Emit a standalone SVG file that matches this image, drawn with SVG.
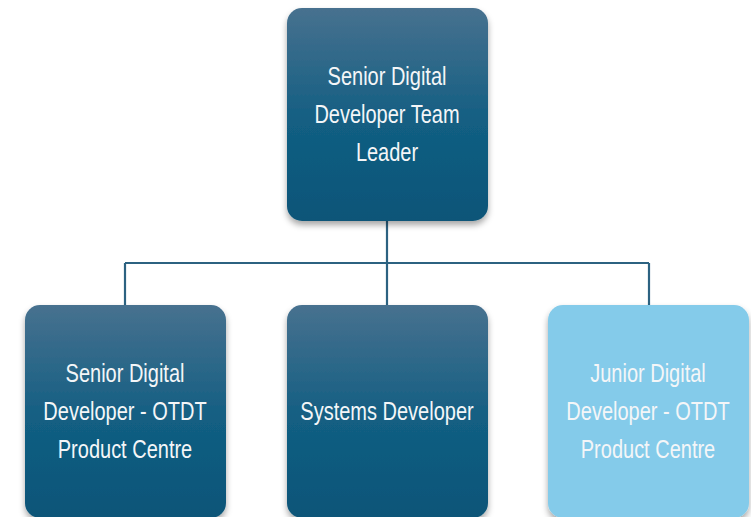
<svg xmlns="http://www.w3.org/2000/svg" width="751" height="517" viewBox="0 0 751 517">
<defs>
<linearGradient id="dark" x1="0" y1="0" x2="0" y2="1">
<stop offset="0" stop-color="#47718F"/>
<stop offset="0.55" stop-color="#125E82"/>
<stop offset="1" stop-color="#0A5578"/>
</linearGradient>
<filter id="sh" x="-10%" y="-10%" width="120%" height="125%">
<feDropShadow dx="0" dy="4" stdDeviation="3" flood-color="#000" flood-opacity="0.35"/>
</filter>
<style>
.box{fill:url(#dark);filter:url(#sh);}
.light{fill:#84CBEA;filter:url(#sh);}
.t{font-family:"Liberation Sans",Arial,sans-serif;font-size:25px;fill:#F4F6F8;text-anchor:middle;}
.c{fill:none;stroke:#2C6281;stroke-width:2.2;}
</style>
</defs>
<rect width="751" height="517" fill="#FFFFFF"/>
<g id="connectors">
<path class="c" d="M387 221 V263 M125 263 H649 M125 263 V306 M387 263 V306 M649 263 V306"/>
</g>
<g id="leader">
<rect class="box" x="287" y="8" width="201" height="213" rx="15"/>
<g transform="translate(387 0) scale(0.8 1)">
<text class="t" x="0" y="85">Senior Digital</text>
<text class="t" x="0" y="123">Developer Team</text>
<text class="t" x="0" y="161">Leader</text>
</g>
</g>
<g id="senior">
<rect class="box" x="25" y="305" width="201" height="213" rx="15"/>
<g transform="translate(125 0) scale(0.8 1)">
<text class="t" x="0" y="382">Senior Digital</text>
<text class="t" x="0" y="420">Developer - OTDT</text>
<text class="t" x="0" y="458">Product Centre</text>
</g>
</g>
<g id="systems">
<rect class="box" x="287" y="305" width="201" height="213" rx="15"/>
<g transform="translate(387 0) scale(0.8 1)">
<text class="t" x="0" y="420">Systems Developer</text>
</g>
</g>
<g id="junior">
<rect class="light" x="548" y="305" width="201" height="213" rx="15"/>
<g transform="translate(648 0) scale(0.8 1)">
<text class="t" x="0" y="382">Junior Digital</text>
<text class="t" x="0" y="420">Developer - OTDT</text>
<text class="t" x="0" y="458">Product Centre</text>
</g>
</g>
</svg>
